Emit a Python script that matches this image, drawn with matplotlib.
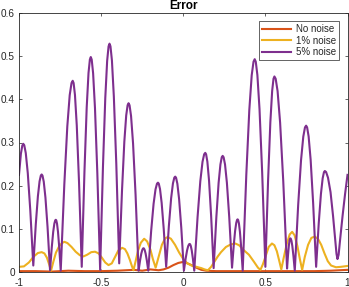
import matplotlib
matplotlib.use("Agg")
import matplotlib.pyplot as plt

plt.rcParams['font.family'] = ['Liberation Sans', 'DejaVu Sans']

title = "Error"
labels = ["No noise", "1% noise", "5% noise"]
colors = ["#D95319", "#EDB120", "#7E2F8E"]
xticks = [-1, -0.5, 0, 0.5, 1]
xticklabels = ["-1", "-0.5", "0", "0.5", "1"]
yticks = [0, 0.1, 0.2, 0.3, 0.4, 0.5, 0.6]
yticklabels = ["0", "0.1", "0.2", "0.3", "0.4", "0.5", "0.6"]

red_x = [-1.0, -0.9, -0.8, -0.7, -0.6, -0.5, -0.4, -0.3, -0.25, -0.2, -0.15, -0.12,
         -0.09, -0.06, -0.03, -0.005, 0.02, 0.05, 0.08, 0.11, 0.14, 0.2, 0.3, 0.4,
         0.5, 0.6, 0.7, 0.8, 0.9, 1.0]
red_y = [0.002, 0.002, 0.001, 0.003, 0.002, 0.002, 0.003, 0.005, 0.003, 0.006, 0.004, 0.006,
         0.01, 0.016, 0.021, 0.023, 0.021, 0.016, 0.01, 0.005, 0.003, 0.002, 0.002, 0.002,
         0.002, 0.002, 0.002, 0.002, 0.003, 0.005]

yel_x = [-1.0, -0.97, -0.94, -0.91, -0.885, -0.862, -0.845, -0.83, -0.815, -0.805,
         -0.79, -0.775, -0.755, -0.738, -0.724, -0.705, -0.68, -0.655, -0.63, -0.608,
         -0.585, -0.56, -0.537, -0.515, -0.495, -0.475, -0.455, -0.435, -0.415, -0.395,
         -0.372, -0.355, -0.34, -0.325, -0.313, -0.303, -0.29, -0.275, -0.258, -0.238,
         -0.22, -0.2, -0.185, -0.168, -0.15, -0.13, -0.11, -0.095, -0.075, -0.05,
         -0.025, 0.0, 0.025, 0.05, 0.08, 0.11, 0.13, 0.15, 0.17, 0.19,
         0.21, 0.23, 0.26, 0.29, 0.317, 0.34, 0.37, 0.4, 0.43, 0.455,
         0.47, 0.485, 0.5, 0.52, 0.54, 0.555, 0.57, 0.585, 0.597, 0.61,
         0.63, 0.648, 0.663, 0.678, 0.695, 0.71, 0.724, 0.74, 0.76, 0.78,
         0.8, 0.82, 0.84, 0.86, 0.88, 0.9, 0.93, 0.96, 1.0]
yel_y = [0.012, 0.013, 0.022, 0.036, 0.044, 0.046, 0.043, 0.033, 0.016, 0.003,
         0.025, 0.045, 0.06, 0.067, 0.07, 0.067, 0.058, 0.047, 0.039, 0.036,
         0.04, 0.046, 0.047, 0.043, 0.033, 0.022, 0.016, 0.02, 0.035, 0.05,
         0.056, 0.053, 0.043, 0.028, 0.014, 0.004, 0.025, 0.05, 0.068, 0.077,
         0.071, 0.052, 0.03, 0.01, 0.035, 0.063, 0.078, 0.081, 0.077, 0.063,
         0.045, 0.03, 0.02, 0.015, 0.012, 0.009, 0.006, 0.004, 0.012, 0.024,
         0.036, 0.046, 0.058, 0.064, 0.066, 0.062, 0.05, 0.04, 0.024, 0.01,
         0.005, 0.018, 0.035, 0.058, 0.066, 0.062, 0.048, 0.025, 0.006, 0.03,
         0.065, 0.087, 0.093, 0.085, 0.06, 0.03, 0.005, 0.035, 0.063, 0.079,
         0.082, 0.077, 0.063, 0.043, 0.025, 0.015, 0.011, 0.012, 0.014]

pur_x = [-1.0, -0.9885, -0.9798, -0.974, -0.9679, -0.9588, -0.9466, -0.9313, -0.913,
         -0.8977, -0.885, -0.8748, -0.8671, -0.862, -0.8569, -0.8493, -0.8391, -0.8263, -0.811,
         -0.8005, -0.7918, -0.7848, -0.7795, -0.776, -0.773, -0.7685, -0.7625, -0.755, -0.746,
         -0.7241, -0.7059, -0.6913, -0.6803, -0.673, -0.6675, -0.6593, -0.6483, -0.6345, -0.618,
         -0.6015, -0.5878, -0.5768, -0.5685, -0.563, -0.5573, -0.5488, -0.5374, -0.5231, -0.506,
         -0.4889, -0.4747, -0.4633, -0.4547, -0.449, -0.4431, -0.4343, -0.4226, -0.4077, -0.39,
         -0.3729, -0.3587, -0.3473, -0.3387, -0.333, -0.3269, -0.3178, -0.3056, -0.2903, -0.272,
         -0.263, -0.2555, -0.2495, -0.245, -0.242, -0.2391, -0.2348, -0.229, -0.2217, -0.213,
         -0.1953, -0.1806, -0.1688, -0.1599, -0.154, -0.149, -0.1415, -0.1315, -0.119, -0.104,
         -0.0875, -0.0738, -0.0628, -0.0545, -0.049, -0.0437, -0.0358, -0.0252, -0.0119, 0.004,
         0.0145, 0.0233, 0.0303, 0.0355, 0.039, 0.0418, 0.046, 0.0516, 0.0586, 0.067,
         0.0871, 0.1039, 0.1173, 0.1273, 0.134, 0.1391, 0.1468, 0.157, 0.1697, 0.185,
         0.2015, 0.2153, 0.2263, 0.2345, 0.24, 0.2457, 0.2543, 0.2657, 0.2799, 0.297,
         0.3072, 0.3157, 0.3225, 0.3276, 0.331, 0.3341, 0.3388, 0.345, 0.3527, 0.362,
         0.3839, 0.4022, 0.4168, 0.4277, 0.435, 0.4415, 0.4513, 0.4643, 0.4805, 0.5,
         0.5165, 0.5303, 0.5413, 0.5495, 0.555, 0.5627, 0.5743, 0.5897, 0.6089, 0.632,
         0.638, 0.643, 0.647, 0.65, 0.652, 0.6547, 0.6588, 0.6641, 0.6709, 0.679,
         0.6997, 0.717, 0.7308, 0.7411, 0.748, 0.7541, 0.7633, 0.7755, 0.7907, 0.809,
         0.8249, 0.8382, 0.8488, 0.8567, 0.862, 0.8697, 0.8813, 0.8967, 0.912, 0.925,
         0.933, 0.939, 0.946, 0.955, 0.97, 0.985, 1.0]
pur_y = [0.225, 0.274, 0.293, 0.297, 0.2936, 0.2756, 0.2293, 0.143, 0.015,
         0.1108, 0.1754, 0.210, 0.2235, 0.226, 0.2233, 0.2091, 0.1727, 0.1048, 0.004,
         0.0571, 0.0929, 0.1121, 0.1196, 0.121, 0.1196, 0.112, 0.0927, 0.0566, 0.003,
         0.2028, 0.3374, 0.4096, 0.4377, 0.443, 0.4378, 0.4102, 0.3396, 0.2077, 0.012,
         0.2326, 0.3814, 0.4611, 0.4922, 0.498, 0.4921, 0.4605, 0.3797, 0.2288, 0.005,
         0.2429, 0.4032, 0.4892, 0.5227, 0.529, 0.5229, 0.4903, 0.4068, 0.2511, 0.02,
         0.1884, 0.302, 0.3628, 0.3865, 0.391, 0.3863, 0.3615, 0.2979, 0.1792, 0.003,
         0.0266, 0.0425, 0.051, 0.0544, 0.055, 0.0544, 0.051, 0.0425, 0.0266, 0.003,
         0.0956, 0.158, 0.1915, 0.2046, 0.207, 0.2047, 0.1922, 0.1602, 0.1005, 0.012,
         0.1069, 0.1708, 0.2051, 0.2185, 0.221, 0.2184, 0.2044, 0.1687, 0.102, 0.003,
         0.0311, 0.0501, 0.0603, 0.0643, 0.065, 0.0643, 0.0603, 0.0501, 0.0311, 0.003,
         0.1269, 0.2105, 0.2553, 0.2727, 0.276, 0.2728, 0.2557, 0.2119, 0.1302, 0.009,
         0.127, 0.2066, 0.2492, 0.2659, 0.269, 0.2659, 0.2493, 0.2068, 0.1276, 0.01,
         0.0608, 0.0951, 0.1135, 0.1207, 0.122, 0.1206, 0.113, 0.0934, 0.057, 0.003,
         0.2255, 0.3754, 0.4558, 0.4871, 0.493, 0.4872, 0.4564, 0.3776, 0.2304, 0.012,
         0.2122, 0.3472, 0.4195, 0.4477, 0.453, 0.4477, 0.4192, 0.3462, 0.21, 0.008,
         0.0398, 0.0612, 0.0727, 0.0772, 0.078, 0.0771, 0.0723, 0.06, 0.037, 0.003,
         0.1555, 0.2584, 0.3135, 0.335, 0.339, 0.3351, 0.3141, 0.2605, 0.1605, 0.012,
         0.1128, 0.1807, 0.2171, 0.2313, 0.234, 0.2316, 0.2185, 0.185, 0.13, 0.075,
         0.042, 0.03, 0.04, 0.075, 0.13, 0.18, 0.225]

fig = plt.figure(figsize=(3.49, 2.87), dpi=100)
ax = fig.add_axes([19/349, 15/287, 328.5/349, 259/287])

lw = 1.5
ax.plot(red_x, red_y, color=colors[0], lw=lw, label=labels[0])
ax.plot(yel_x, yel_y, color=colors[1], lw=lw, label=labels[1])
ax.plot(pur_x, pur_y, color=colors[2], lw=lw, label=labels[2])

ax.set_xlim(-1, 1)
ax.set_ylim(0, 0.6)
ax.set_xticks(xticks)
ax.set_xticklabels(xticklabels)
ax.set_yticks(yticks)
ax.set_yticklabels(yticklabels)
axcol = "#262626"
ax.tick_params(direction='in', length=2.5, width=0.5, colors=axcol,
               labelsize=7.2, top=True, right=True, pad=3)
ax.tick_params(axis='x', pad=4)
for s in ax.spines.values():
    s.set_color(axcol)
    s.set_linewidth(0.6)

ax.set_title(title, fontsize=8.5, fontweight='bold', color='black', pad=3)

leg = ax.legend(loc='upper right', fontsize=7, frameon=True, fancybox=False,
                edgecolor='#262626', framealpha=1, borderaxespad=0.85,
                handlelength=3.0, handletextpad=0.5, labelspacing=0.17,
                borderpad=0.3)
leg.get_frame().set_linewidth(0.5)
for t in leg.get_texts():
    t.set_color(axcol)

fig.savefig("out.png", dpi=100)
